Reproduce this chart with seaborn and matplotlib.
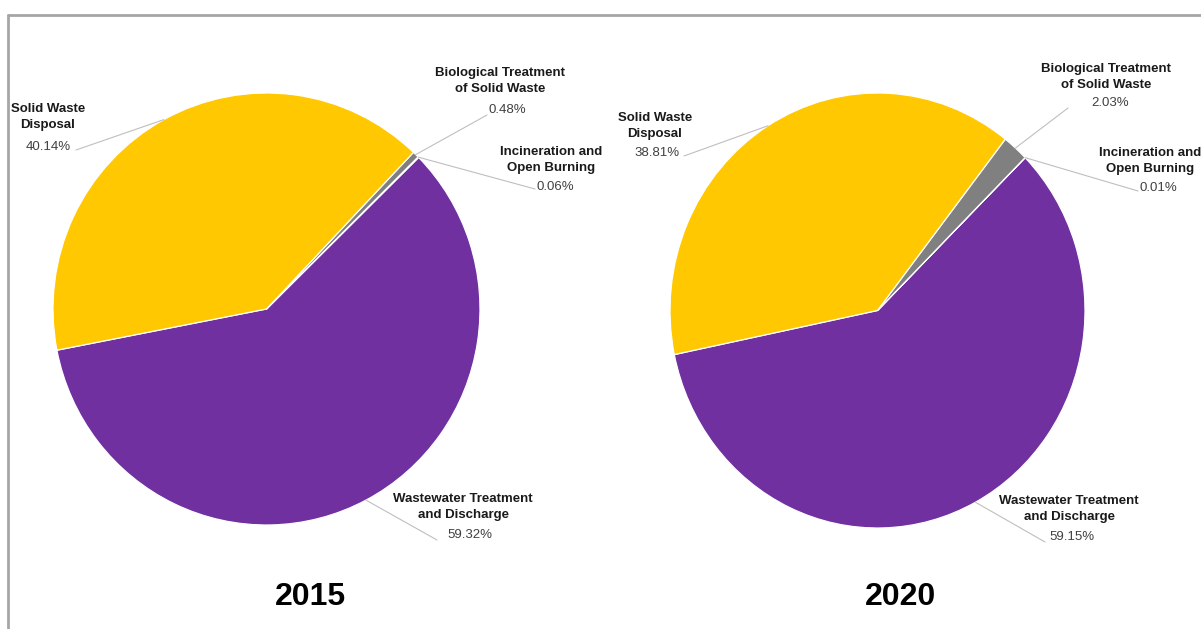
import numpy as np
import matplotlib
matplotlib.use("Agg")
import matplotlib.pyplot as plt
from matplotlib.lines import Line2D
import seaborn as sns

# Emission shares by waste sub-sector (percent of total)
categories = [
    "Wastewater Treatment\nand Discharge",
    "Incineration and\nOpen Burning",
    "Biological Treatment\nof Solid Waste",
    "Solid Waste\nDisposal",
]
years = ["2015", "2020"]
share_2015 = [59.32, 0.06, 0.48, 40.14]
share_2020 = [59.15, 0.01, 2.03, 38.81]

sns.set_theme(style="white")
plt.rcParams["font.family"] = ["Liberation Sans", "DejaVu Sans"]

colors = ["#7030A0", "#A5A5A5", "#808080", "#FFC800"]

W, H = 1201, 629
fig = plt.figure(figsize=(W / 100, H / 100), dpi=100)


def fpos(x, y):
    """Pixel position (from top-left) to figure fraction."""
    return x / W, 1 - y / H


# Layout per pie: centre/radii in pixels, start angle, label anchors
layouts = [
    dict(cx=266.5, cy=309, rx=213.5, ry=216, start=191.0, year_xy=(310, 597),
         labels=[((463, 507), (470, 535), (437, 540)),
                 ((551, 160), (555, 187), (535, 189)),
                 ((500, 81), (507, 110), (487, 115)),
                 ((48, 117), (48, 147), (76, 150))]),
    dict(cx=877.5, cy=310.5, rx=207.5, ry=217.5, start=191.7, year_xy=(900, 597),
         labels=[((1069, 509), (1072, 537), (1045, 542)),
                 ((1150, 161), (1158, 188), (1138, 191)),
                 ((1106, 77), (1110, 103), (1068, 108)),
                 ((655, 126), (657, 153), (684, 156))]),
]

for values, year, lay in zip([share_2015, share_2020], years, layouts):
    left, top = lay["cx"] - lay["rx"], lay["cy"] - lay["ry"]
    ax = fig.add_axes([left / W, 1 - (top + 2 * lay["ry"]) / H,
                       2 * lay["rx"] / W, 2 * lay["ry"] / H])
    wedges, _ = ax.pie(values, colors=colors, startangle=lay["start"],
                       counterclock=True,
                       wedgeprops=dict(edgecolor="white", linewidth=0.9))
    ax.set_aspect("auto")
    ax.set_xlim(-1, 1)
    ax.set_ylim(-1, 1)
    ax.axis("off")

    for wedge, name, val, (name_xy, pct_xy, end_xy) in zip(
            wedges, categories, values, lay["labels"]):
        mid = np.deg2rad((wedge.theta1 + wedge.theta2) / 2)
        ax.annotate("", xy=(np.cos(mid), np.sin(mid)), xycoords="data",
                    xytext=fpos(*end_xy), textcoords="figure fraction",
                    arrowprops=dict(arrowstyle="-", color="#BFBFBF", lw=0.8,
                                    shrinkA=0, shrinkB=0),
                    annotation_clip=False)
        fig.text(*fpos(*name_xy), name, ha="center", va="center",
                 fontsize=9.5, fontweight="bold", color="#1A1A1A",
                 linespacing=1.35)
        fig.text(*fpos(*pct_xy), f"{val:.2f}%", ha="center", va="center",
                 fontsize=9.5, color="#404040")

    fig.text(*fpos(*lay["year_xy"]), year, ha="center", va="center",
             fontsize=23, fontweight="bold", color="black")

# Frame lines along the top and left edges
fig.add_artist(Line2D([8 / W, 1], [1 - 15 / H, 1 - 15 / H],
                      transform=fig.transFigure, color="#A6A6A6", lw=2))
fig.add_artist(Line2D([8 / W, 8 / W], [0, 1 - 15 / H],
                      transform=fig.transFigure, color="#A6A6A6", lw=2))

fig.savefig("out.png", dpi=100, facecolor="white")
